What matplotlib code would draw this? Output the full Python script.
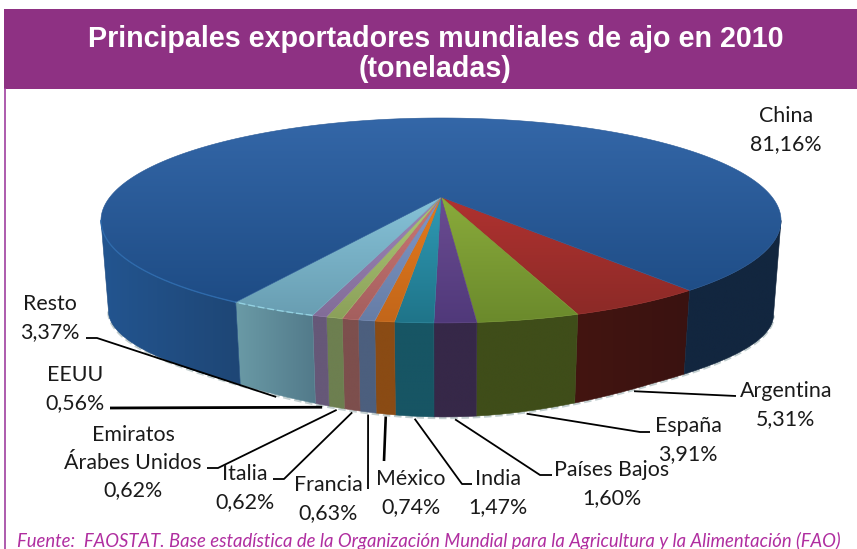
import numpy as np
import matplotlib
matplotlib.use("Agg")
import matplotlib.pyplot as plt
from matplotlib.patches import Polygon, Rectangle
from matplotlib.colors import LinearSegmentedColormap

# ---- data ----
categories = ["China", "Argentina", "España", "Países Bajos", "India", "México",
              "Francia", "Italia", "Emiratos\nÁrabes Unidos", "EEUU", "Resto"]
values = [81.16, 5.31, 3.91, 1.60, 1.47, 0.74, 0.63, 0.62, 0.62, 0.56, 3.37]
value_labels = ["81,16%", "5,31%", "3,91%", "1,60%", "1,47%", "0,74%",
                "0,63%", "0,62%", "0,62%", "0,56%", "3,37%"]

# ---- style ----
top_hi = ["#3467a8", "#b03230", "#8aab3b", "#6b4c92", "#2f9ab5", "#e57a1c",
          "#8098c8", "#cc7774", "#adc976", "#9d85b8", "#86c2d8"]
top_lo = ["#1e4c85", "#8c2a27", "#6b8a2c", "#50397a", "#1f7489", "#c2661a",
          "#667da6", "#a45f5e", "#8ba05a", "#826d98", "#699eb2"]
wall_l = ["#235590", "#431511", "#3f4d19", "#362848", "#175564", "#8a4b14",
          "#4c5f7e", "#7d4f4d", "#6d7f50", "#665878", "#6a9aa6"]
wall_r = ["#1e4675", "#3a1210", "#3f4d19", "#362848", "#175564", "#8a4b14",
          "#4c5f7e", "#7d4f4d", "#6d7f50", "#665878", "#527a8a"]
wall_back = "#12263f"
purple = "#8E3183"
start_deg = 38.0
cx, y0, k, B, A = 441.0, 197.0, 0.229, 331.0, 97.1
label_xy = {"China": (786, 130), "Argentina": (786, 405), "España": (688, 440),
            "Países Bajos": (612, 484), "India": (498, 493), "México": (411, 493),
            "Francia": (328, 499), "Italia": (245, 488),
            "Emiratos\nÁrabes Unidos": (133, 463), "EEUU": (75, 389), "Resto": (50, 318)}
leaders = {"Argentina": [(736, 396)], "España": [(650, 432), (640, 432)],
           "Países Bajos": [(552, 475), (540, 475)], "India": [(472, 484), (462, 484)],
           "México": [(384, 461)], "Francia": [(368, 489)],
           "Italia": [(273, 479), (284, 479)],
           "Emiratos\nÁrabes Unidos": [(207, 468), (218, 468)],
           "EEUU": [(110, 408)], "Resto": [(86, 338), (97, 338)]}
leader_lw = {"EEUU": 2.0, "México": 1.9}


def top_pt(theta):
    u, v = np.sin(theta), np.cos(theta)
    d = 1 - k * v
    return cx + B * u / d, y0 + A * v / d


def bottom_pt(theta):
    x, y = top_pt(theta)
    u, v = np.sin(theta), np.cos(theta)
    depth = 80 + 2 * u + 12 * np.clip((0.85 - v) / 0.6, 0, 1) + 14 * np.clip(v, 0, 1) ** 10
    return cx + (x - cx) * 0.978, y + depth


fig = plt.figure(figsize=(8.57, 5.49), dpi=100, facecolor="white")
ax = fig.add_axes([0, 0, 1, 1])
ax.set_xlim(0, 857)
ax.set_ylim(549, 0)
ax.axis("off")

# frame and title band
ax.add_patch(Rectangle((4, 9), 853, 80, fc=purple, ec="none", zorder=1))
ax.plot([5.5, 5.5], [89, 549], color="#A040A0", lw=1.2, zorder=1)
ax.text(435.5, 54, "Principales exportadores mundiales de ajo en 2010\n(toneladas)",
        ha="center", va="center", color="white", fontsize=20.6, fontweight="bold",
        family="Liberation Sans", linespacing=1.1, zorder=5)

# slice angles: clockwise on screen from the China/Argentina edge
shares = np.array(values) / sum(values) * 2 * np.pi
order = list(range(1, len(values))) + [0]
edges = {}
th = np.radians(start_deg)
for i in order:
    edges[i] = (th, th - shares[i])
    th -= shares[i]


def grad(poly, c1, c2, horizontal=False, z=2):
    xs, ys = poly[:, 0], poly[:, 1]
    cmap = LinearSegmentedColormap.from_list("g", [c1, c2])
    g = np.linspace(0, 1, 256)
    g = g[None, :] if horizontal else g[:, None]
    ext = (xs.min(), xs.max(), ys.max(), ys.min())
    im = ax.imshow(g, cmap=cmap, extent=ext, aspect="auto", zorder=z, interpolation="bilinear")
    p = Polygon(poly, closed=True, transform=ax.transData, fc="none", ec="none")
    ax.add_patch(p)
    im.set_clip_path(p)
    ax.add_patch(Polygon(poly, closed=True, fc="none", ec=cmap(0.5), lw=0.4, zorder=z))


# walls (only the part that faces the viewer)
silhouette = np.arccos(k)
for i in order:
    a, b = edges[i]
    if i == 0:
        # China wraps around the back: keep its two visible wall pieces
        t1 = np.linspace(a, -silhouette, 200)
        t2 = np.linspace(silhouette, np.radians(start_deg), 200)
        for tt, c1, c2 in ((t1, wall_l[i], wall_r[i]), (t2, wall_back, wall_back)):
            pts = np.vstack([np.c_[top_pt(tt)], np.c_[bottom_pt(tt[::-1])]])
            grad(pts, c1, c2, True, 2)
    else:
        t = np.linspace(a, b, 300)
        pts = np.vstack([np.c_[top_pt(t)], np.c_[bottom_pt(t[::-1])]])
        grad(pts, wall_l[i], wall_r[i], True, 2)

# pale reflection under the base
t = np.linspace(-silhouette, silhouette, 600)
bx, by = bottom_pt(t)
ax.plot(bx, by + 1.0, color="#c3cfd0", lw=1.8, ls=(0, (3, 1.5)), zorder=1.5)

# top faces
for i in order:
    a, b = edges[i]
    t = np.linspace(a, b, 600)
    x, y = top_pt(t)
    pts = np.vstack([[cx, y0], np.c_[x, y]])
    grad(pts, top_hi[i], top_lo[i], False, 3)

# rim highlights at the left
t = np.linspace(-silhouette, edges[0][0], 200)
ax.plot(*top_pt(t), color="#2f6cae", lw=1.0, alpha=0.9, zorder=4)
t = np.linspace(*edges[10], 60)
ax.plot(*top_pt(t), color="#97d6e6", lw=1.0, ls=(0, (5, 2)), alpha=0.9, zorder=4)

# labels and leader lines
anchor = {}
for i, name in enumerate(categories):
    a, b = edges[i]
    anchor[name] = bottom_pt((a + b) / 2)
for name, knots in leaders.items():
    ax_, ay_ = anchor[name]
    xs = [p[0] for p in knots] + [ax_]
    ys = [p[1] for p in knots] + [ay_ + 2.5]
    ax.plot(xs, ys, color="black", lw=leader_lw.get(name, 1.3), zorder=6, solid_capstyle="butt")
for i, name in enumerate(categories):
    lx, ly = label_xy[name]
    ax.text(lx, ly, name + "\n" + value_labels[i], ha="center", va="center",
            fontsize=15.4, family="Lato", color="#1a1a1a", linespacing=1.47, zorder=7)

ax.text(17, 540.5, "Fuente:  FAOSTAT. Base estadística de la Organización Mundial para la "
        "Agricultura y la Alimentación (FAO)", ha="left", va="center", style="italic",
        fontsize=13.35, family="Lato", color="#B02EA0", zorder=7)

fig.savefig("out.png", dpi=100)
